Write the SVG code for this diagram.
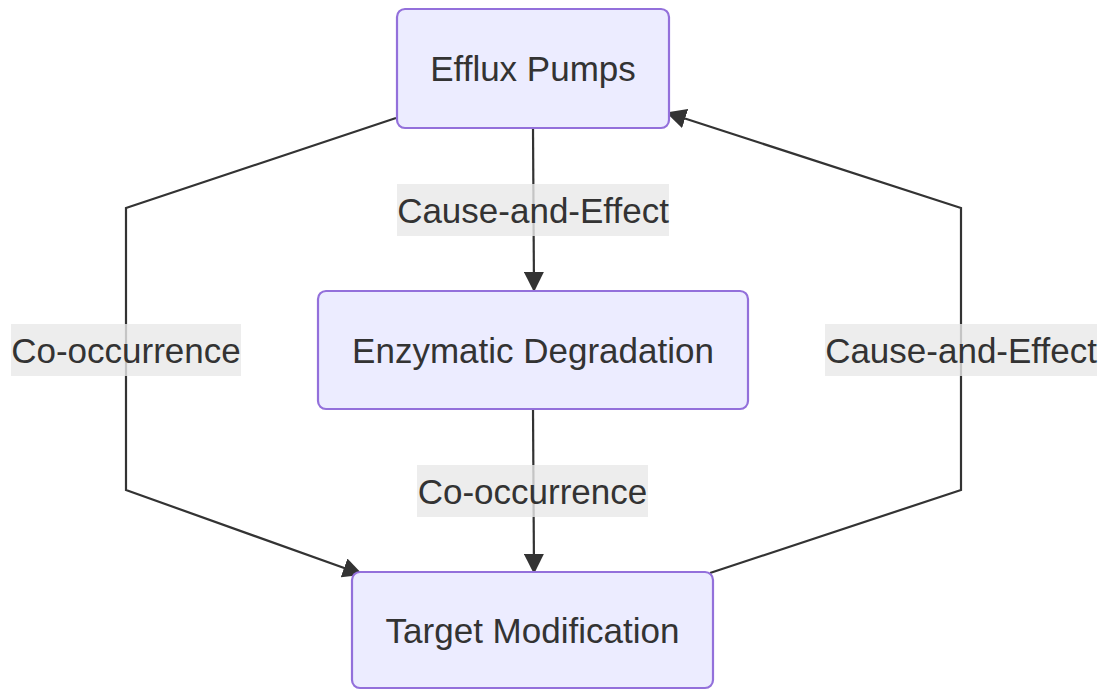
<svg xmlns="http://www.w3.org/2000/svg" width="1104" height="690" viewBox="0 0 1104 690">
<style>
.node rect{fill:#ECECFF;stroke:#9370DB;stroke-width:2.2}
.node text{font-family:"Liberation Sans",Arial,sans-serif;font-size:35px;fill:#333;text-anchor:middle;dominant-baseline:central}
.edge{fill:none;stroke:#333;stroke-width:2.2}
.lbl rect{fill:#e8e8e8;fill-opacity:0.8}
.lbl text{font-family:"Liberation Sans",Arial,sans-serif;font-size:35px;fill:#333;text-anchor:middle;dominant-baseline:central}
</style>
<defs>
<marker id="arrow" viewBox="0 0 10 10" refX="9" refY="5" markerUnits="userSpaceOnUse" markerWidth="20" markerHeight="20" orient="auto">
<path d="M0,0 L10,5 L0,10 z" fill="#333"/>
</marker>
</defs>
<g id="connectors">
<path class="edge" d="M533,128 L534,290" marker-end="url(#arrow)"/>
<path class="edge" d="M533,409 L534,572" marker-end="url(#arrow)"/>
<path class="edge" d="M396,118 L126,208 L126,490 L361,574" marker-end="url(#arrow)"/>
<path class="edge" d="M710,573 L961,490 L961,208 L668,113" marker-end="url(#arrow)"/>
<g class="lbl">
<rect x="397" y="184" width="272" height="52"/>
<text x="533" y="210">Cause-and-Effect</text>
</g>
<g class="lbl">
<rect x="417" y="465" width="231" height="52"/>
<text x="532.5" y="491">Co-occurrence</text>
</g>
<g class="lbl">
<rect x="11" y="324" width="230" height="52"/>
<text x="126" y="350">Co-occurrence</text>
</g>
<g class="lbl">
<rect x="825" y="324" width="272" height="52"/>
<text x="961" y="350">Cause-and-Effect</text>
</g>
</g>
<g id="efflux" class="node">
<rect x="397" y="9" width="272" height="119" rx="8"/>
<text x="533" y="68.5">Efflux Pumps</text>
</g>
<g id="enzymatic" class="node">
<rect x="318" y="291" width="430" height="118" rx="8"/>
<text x="533" y="350">Enzymatic Degradation</text>
</g>
<g id="target" class="node">
<rect x="352" y="572" width="361" height="116" rx="8"/>
<text x="532.5" y="630">Target Modification</text>
</g>
</svg>
